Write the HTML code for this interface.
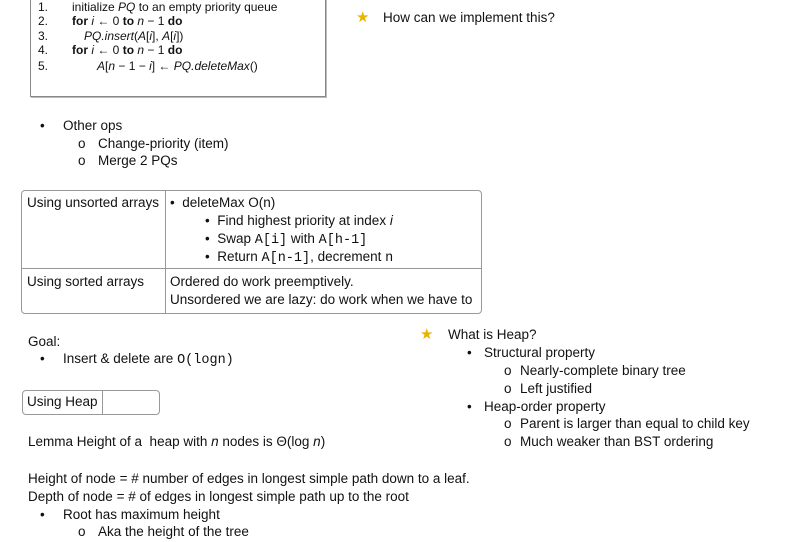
<!DOCTYPE html>
<html><head><meta charset="utf-8"><style>
body{margin:0;width:802px;height:542px;background:#fff;position:relative;overflow:hidden;font-family:"Liberation Sans",sans-serif;font-size:13.5px;color:#111}
.t{position:absolute;white-space:nowrap;line-height:16px}
.c{font-family:"Liberation Sans",sans-serif;font-size:12px}
.m{font-family:"Liberation Mono",monospace}
.b{position:absolute;border:1px solid #999}
.star{position:absolute;color:#e8b400;font-size:15px;line-height:16px}
</style></head><body>
<div class="b" style="left:30px;top:-5px;width:294px;height:100px;border-color:#888;box-shadow:1px 1px 0 #bbb"></div>
<div class="t c" style="left:38px;top:-1px">1.</div><div class="t c" style="left:72px;top:-1px">initialize <i>PQ</i> to an empty priority queue</div>
<div class="t c" style="left:38px;top:13px">2.</div><div class="t c" style="left:72px;top:13px"><b>for</b> <i>i</i> ← 0 <b>to</b> <i>n</i> − 1 <b>do</b></div>
<div class="t c" style="left:38px;top:28px">3.</div><div class="t c" style="left:84px;top:28px"><i>PQ.insert</i>(<i>A</i>[<i>i</i>], <i>A</i>[<i>i</i>])</div>
<div class="t c" style="left:38px;top:42px">4.</div><div class="t c" style="left:72px;top:42px"><b>for</b> <i>i</i> ← 0 <b>to</b> <i>n</i> − 1 <b>do</b></div>
<div class="t c" style="left:38px;top:58px">5.</div><div class="t c" style="left:97px;top:58px"><i>A</i>[<i>n</i> − 1 − <i>i</i>] ← <i>PQ.deleteMax</i>()</div>

<div class="star" style="left:356px;top:10px">★</div><div class="t" style="left:383px;top:10px">How can we implement this?</div>

<div class="t" style="left:40px;top:118px">•</div><div class="t" style="left:63px;top:118px">Other ops</div>
<div class="t" style="left:78px;top:136px">o</div><div class="t" style="left:98px;top:136px">Change-priority (item)</div>
<div class="t" style="left:78px;top:153px">o</div><div class="t" style="left:98px;top:153px">Merge 2 PQs</div>

<div class="b" style="left:21px;top:190px;width:459px;height:122px;border-radius:4px"></div>
<div style="position:absolute;left:165px;top:191px;width:1px;height:122px;background:#999"></div>
<div style="position:absolute;left:22px;top:268px;width:459px;height:1px;background:#999"></div>
<div class="t" style="left:27px;top:195px">Using unsorted arrays</div>
<div class="t" style="left:170px;top:195px">•&nbsp; deleteMax O(n)</div>
<div class="t" style="left:205px;top:213px">•&nbsp; Find highest priority at index <i>i</i></div>
<div class="t" style="left:205px;top:231px">•&nbsp; Swap <span class="m">A[i]</span> with <span class="m">A[h-1]</span></div>
<div class="t" style="left:205px;top:249px">•&nbsp; Return <span class="m">A[n-1]</span>, decrement <span class="m">n</span></div>
<div class="t" style="left:27px;top:274px">Using sorted arrays</div>
<div class="t" style="left:170px;top:274px">Ordered do work preemptively.</div>
<div class="t" style="left:170px;top:292px">Unsordered we are lazy: do work when we have to</div>

<div class="t" style="left:28px;top:334px">Goal:</div>
<div class="t" style="left:40px;top:351px">•</div><div class="t" style="left:63px;top:351px">Insert &amp; delete are <span class="m">O(logn)</span></div>

<div class="b" style="left:22px;top:390px;width:136px;height:23px;border-radius:4px"></div>
<div style="position:absolute;left:102px;top:391px;width:1px;height:23px;background:#999"></div>
<div class="t" style="left:27px;top:394px">Using Heap</div>

<div class="t" style="left:28px;top:434px">Lemma Height of a&nbsp; heap with <i>n</i> nodes is Θ(log <i>n</i>)</div>
<div class="t" style="left:28px;top:471px">Height of node = # number of edges in longest simple path down to a leaf.</div>
<div class="t" style="left:28px;top:489px">Depth of node = # of edges in longest simple path up to the root</div>
<div class="t" style="left:40px;top:507px">•</div><div class="t" style="left:63px;top:507px">Root has maximum height</div>
<div class="t" style="left:78px;top:524px">o</div><div class="t" style="left:98px;top:524px">Aka the height of the tree</div>

<div class="star" style="left:420px;top:327px">★</div><div class="t" style="left:448px;top:327px">What is Heap?</div>
<div class="t" style="left:467px;top:345px">•</div><div class="t" style="left:484px;top:345px">Structural property</div>
<div class="t" style="left:504px;top:363px">o</div><div class="t" style="left:520px;top:363px">Nearly-complete binary tree</div>
<div class="t" style="left:504px;top:381px">o</div><div class="t" style="left:520px;top:381px">Left justified</div>
<div class="t" style="left:467px;top:399px">•</div><div class="t" style="left:484px;top:399px">Heap-order property</div>
<div class="t" style="left:504px;top:416px">o</div><div class="t" style="left:520px;top:416px">Parent is larger than equal to child key</div>
<div class="t" style="left:504px;top:434px">o</div><div class="t" style="left:520px;top:434px">Much weaker than BST ordering</div>
</body></html>
